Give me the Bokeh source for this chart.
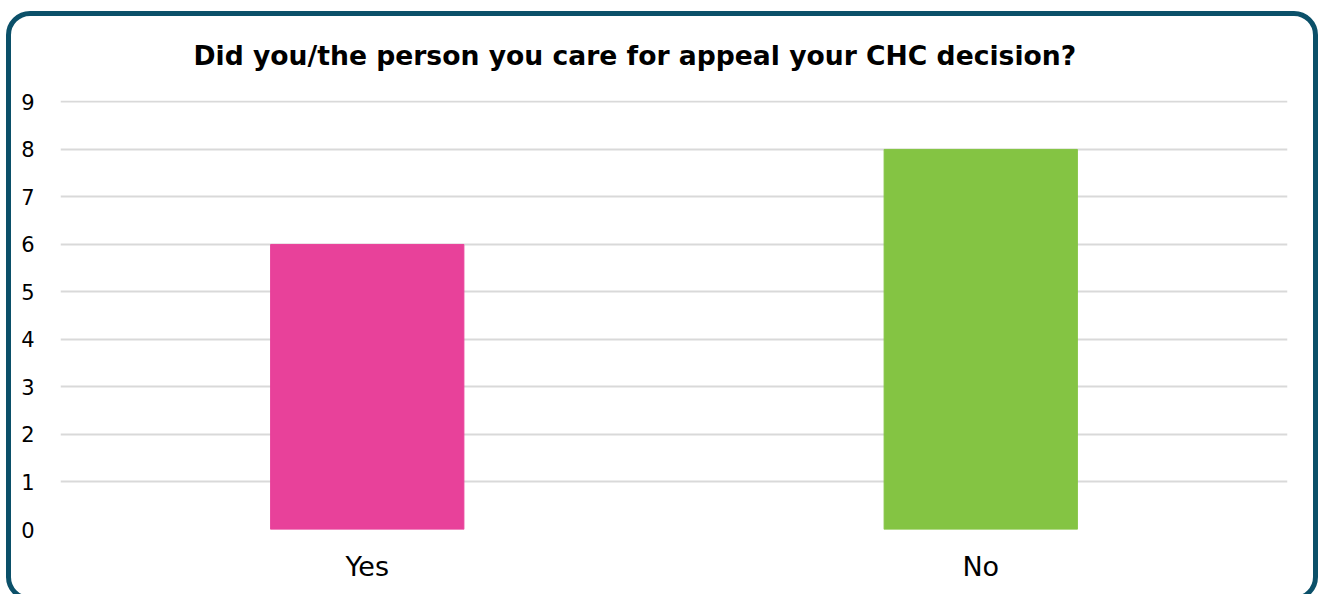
from bokeh.plotting import figure
from bokeh.models import FactorRange, Range1d, FixedTicker, ColumnDataSource
from bokeh.embed import file_html
from bokeh.resources import INLINE

categories = ["Yes", "No"]
counts = [6, 8]
colors = ["#E8419A", "#84C443"]
title_text = "Did you/the person you care for appeal your CHC decision?"
y_ticks = [0, 1, 2, 3, 4, 5, 6, 7, 8, 9]

source = ColumnDataSource(data=dict(cat=categories, val=counts, col=colors))

p = figure(width=1318, height=594,
           x_range=FactorRange(*categories, range_padding=0),
           y_range=Range1d(0, 9.03),
           output_backend="svg", toolbar_location=None,
           min_border_left=60, min_border_right=31,
           min_border_top=100, min_border_bottom=65,
           title=title_text)

p.vbar(x="cat", top="val", width=0.315, color="col", source=source)

p.title.align = "left"
p.title.offset = 133
p.title.standoff = 59
p.title.text_font = "DejaVu Sans"
p.title.text_font_style = "bold"
p.title.text_font_size = "26.6px"
p.title.text_color = "#000000"

p.outline_line_color = None
p.background_fill_color = "white"
p.border_fill_color = "white"

p.xgrid.grid_line_color = None
p.ygrid.grid_line_color = "#d9d9d9"
p.ygrid.grid_line_width = 2
p.yaxis.ticker = FixedTicker(ticks=y_ticks)

for ax in (p.xaxis[0], p.yaxis[0]):
    ax.axis_line_color = None
    ax.major_tick_line_color = None
    ax.minor_tick_line_color = None
    ax.major_label_text_font = "DejaVu Sans"
    ax.major_label_text_color = "#000000"

p.yaxis.major_label_text_font_size = "21px"
p.yaxis.major_label_standoff = 20
p.xaxis.major_label_text_font_size = "27px"
p.xaxis.major_label_standoff = 15

p.stylesheets = [
    ":host { position: relative; }\n"
    ":host::after { content: ''; position: absolute; left: 6px; top: 11px; "
    "width: 1312px; height: 590px; box-sizing: border-box; "
    "border: 5px solid #0b5069; border-radius: 24px; pointer-events: none; }"
]

open("out.html", "w").write(file_html(p, INLINE))
